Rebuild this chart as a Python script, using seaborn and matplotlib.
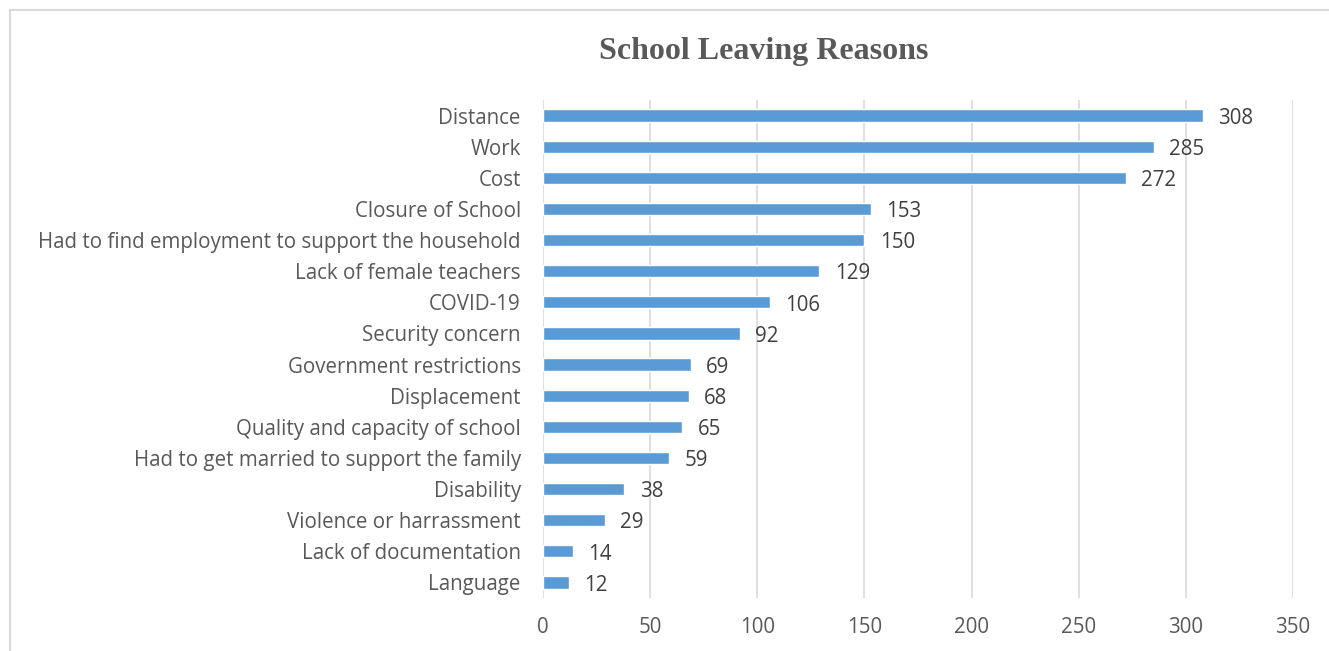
import matplotlib
matplotlib.use("Agg")
import matplotlib.pyplot as plt
import seaborn as sns
import pandas as pd
from matplotlib.patches import Rectangle

categories = [
    "Distance", "Work", "Cost", "Closure of School",
    "Had to find employment to support the household",
    "Lack of female teachers", "COVID-19", "Security concern",
    "Government restrictions", "Displacement",
    "Quality and capacity of school",
    "Had to get married to support the family", "Disability",
    "Violence or harrassment", "Lack of documentation", "Language",
]
values = [308, 285, 272, 153, 150, 129, 106, 92, 69, 68, 65, 59, 38, 29, 14, 12]
xticks = [0, 50, 100, 150, 200, 250, 300, 350]

df = pd.DataFrame({"reason": categories, "count": values})

sns.set_theme(style="white")
plt.rcParams["font.family"] = ["Open Sans", "DejaVu Sans"]

fig = plt.figure(figsize=(13.29, 6.51), dpi=100)
ax = fig.add_axes([543 / 1329, 1 - 598 / 651, 750 / 1329, 498 / 651])

sns.barplot(data=df, x="count", y="reason", orient="h", color="#5B9BD5",
            saturation=1, width=0.39, ax=ax)

ax.set_xlim(0, 350)
ax.set_ylim(len(categories) - 0.5, -0.5)
ax.set_xticks(xticks)
ax.set_xticklabels([str(t) for t in xticks])
ax.xaxis.grid(True, color="#D9D9D9", linewidth=1.2)
ax.set_axisbelow(True)
for s in ax.spines.values():
    s.set_visible(False)
ax.tick_params(axis="both", length=0, labelsize=14.8, colors="#595959")
ax.tick_params(axis="x", pad=14)
ax.tick_params(axis="y", pad=16)
ax.set_xlabel("")
ax.set_ylabel("")

for cont in ax.containers:
    for txt in ax.bar_label(cont, labels=[str(v) for v in values], padding=11,
                            fontsize=14.8, color="#404040"):
        x, y = txt.xyann
        txt.xyann = (x, y - 2)

fig.text(764 / 1329, 1 - 51 / 651, "School Leaving Reasons",
         ha="center", va="center", fontsize=23, fontweight="bold",
         family="Liberation Serif", color="#595959")

fig.patches.append(Rectangle((10 / 1329, -0.05), 1.1, 1 - 10.5 / 651 + 0.05,
                             transform=fig.transFigure, fill=False,
                             edgecolor="#D9D9D9", linewidth=1.5))

fig.savefig("out.png", dpi=100)
